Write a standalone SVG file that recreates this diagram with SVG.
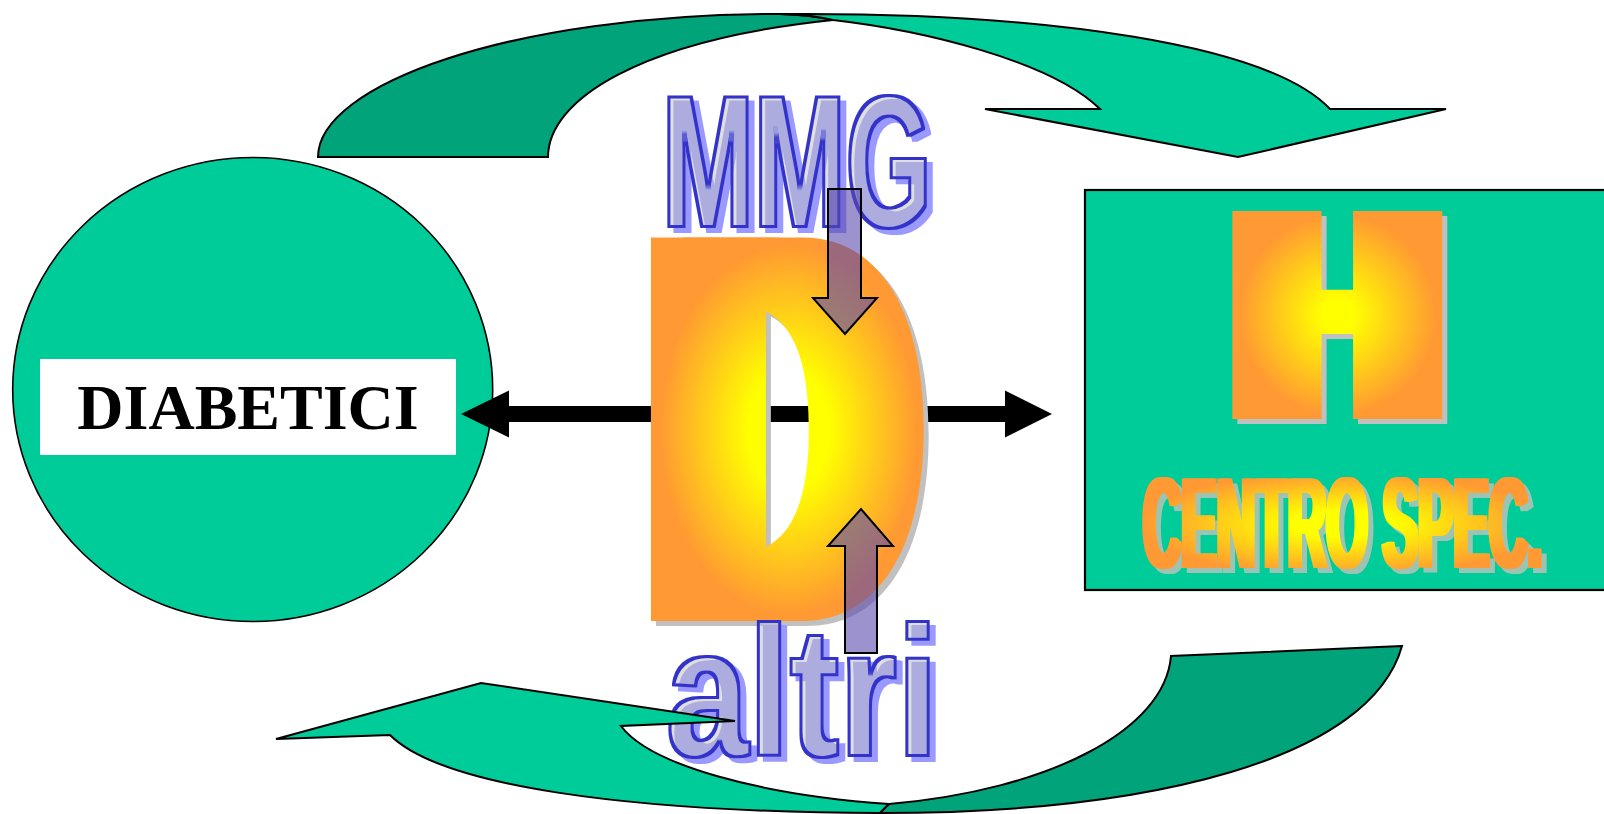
<svg xmlns="http://www.w3.org/2000/svg" width="1604" height="814" viewBox="0 0 1604 814">
  <style>
    .edge { stroke: #000; stroke-width: 2; stroke-linejoin: miter; }
    .front { fill: #00cc99; }
    .back { fill: #00a37a; }
    .pointer { fill: #5a4aae; fill-opacity: 0.6; stroke: #000; stroke-width: 2; }
    .heavy { font-family: "Liberation Sans", Arial, sans-serif; font-weight: bold; }
    .grot { font-family: Inter, "Liberation Sans", Arial, sans-serif; font-weight: 700; }
    .hollow { font-family: "Liberation Sans", Arial, sans-serif; font-weight: bold; fill: #000; }
    .label { font-family: "Liberation Serif", "Times New Roman", serif; font-weight: bold; font-size: 64px; fill: #000; }
  </style>
  <defs>
    <!-- warm yellow-to-orange glows, one per big lettering -->
    <radialGradient id="glowD" gradientUnits="userSpaceOnUse" cx="0" cy="0" r="1" gradientTransform="translate(789 430) scale(136 195)">
      <stop offset="0" stop-color="#ffff00"/>
      <stop offset="0.3" stop-color="#ffff00"/>
      <stop offset="0.95" stop-color="#ff9933"/>
    </radialGradient>
    <radialGradient id="glowH" gradientUnits="userSpaceOnUse" cx="0" cy="0" r="1" gradientTransform="translate(1338 315) scale(104 106)">
      <stop offset="0" stop-color="#ffff00"/>
      <stop offset="0.15" stop-color="#ffff00"/>
      <stop offset="0.95" stop-color="#ff9933"/>
    </radialGradient>
    <radialGradient id="glowC" gradientUnits="userSpaceOnUse" cx="0" cy="0" r="1" gradientTransform="translate(1342 524) scale(200 52)">
      <stop offset="0" stop-color="#ffff00"/>
      <stop offset="0.25" stop-color="#ffff00"/>
      <stop offset="1" stop-color="#ff9933"/>
    </radialGradient>
    <!-- same glow expressed in the condensed text's own coordinates -->
    <radialGradient id="glowCText" href="#glowC" gradientTransform="translate(486.1 -44) scale(488.3 52)"/>

    <!-- white, horizontally thickened silhouettes of the letters -->
    <filter id="widenD" x="-0.4" y="-0.1" width="1.8" height="1.2" color-interpolation-filters="sRGB">
      <feMorphology in="SourceAlpha" operator="dilate" radius="31.7 0.4" result="fat"/>
      <feFlood flood-color="#fff"/>
      <feComposite operator="in" in2="fat"/>
    </filter>
    <filter id="widenH" x="-0.4" y="-0.1" width="1.8" height="1.2" color-interpolation-filters="sRGB">
      <feMorphology in="SourceAlpha" operator="dilate" radius="25 5" result="fat"/>
      <feFlood flood-color="#fff"/>
      <feComposite operator="in" in2="fat"/>
    </filter>
    <filter id="widenC" x="-0.1" y="-0.1" width="1.2" height="1.2" color-interpolation-filters="sRGB">
      <feMorphology in="SourceAlpha" operator="dilate" radius="2.5 0.4" result="fat"/>
      <feFlood flood-color="#fff"/>
      <feComposite operator="in" in2="fat"/>
    </filter>
    <mask id="maskD" maskUnits="userSpaceOnUse" x="0" y="0" width="1604" height="814">
      <use href="#glyphD" filter="url(#widenD)"/>
    </mask>
    <mask id="maskH" maskUnits="userSpaceOnUse" x="0" y="0" width="1604" height="814">
      <use href="#glyphH" filter="url(#widenH)"/>
    </mask>
    <mask id="maskC" maskUnits="userSpaceOnUse" x="0" y="0" width="1604" height="814">
      <use href="#glyphC" filter="url(#widenC)"/>
    </mask>

    <!-- outlined word look: periwinkle shadow, translucent grey body, blue rim -->
    <filter id="hollowFx" x="-0.1" y="-0.1" width="1.3" height="1.3" color-interpolation-filters="sRGB">
      <feMorphology in="SourceAlpha" operator="dilate" radius="1 0.4" result="fat"/>
      <feMorphology in="fat" operator="dilate" radius="1" result="outer"/>
      <feMorphology in="fat" operator="erode" radius="2" result="inner"/>
      <feComposite in="outer" in2="inner" operator="out" result="ring"/>
      <feFlood flood-color="#9999ff"/>
      <feComposite operator="in" in2="outer"/>
      <feOffset dx="6" dy="5" result="shade"/>
      <feFlood flood-color="#c0c0c0" flood-opacity="0.5"/>
      <feComposite operator="in" in2="outer" result="body"/>
      <feFlood flood-color="#3333cc"/>
      <feComposite operator="in" in2="ring" result="rim"/>
      <feMerge>
        <feMergeNode in="shade"/>
        <feMergeNode in="body"/>
        <feMergeNode in="rim"/>
      </feMerge>
    </filter>
  </defs>

  <rect width="1604" height="814" fill="#fff"/>

  <!-- patients -->
  <g id="diabetici">
    <ellipse cx="252.7" cy="389.5" rx="240" ry="232" class="front" stroke="#000" stroke-width="1.6"/>
    <rect x="40" y="359" width="416" height="96" fill="#fff"/>
    <text class="label" x="248" y="429" text-anchor="middle">DIABETICI</text>
  </g>

  <!-- specialist centre -->
  <g id="centro-spec">
    <rect x="1085" y="190" width="540" height="400" class="front" stroke="#000" stroke-width="2.2"/>
    <rect x="1180" y="150" width="320" height="320" fill="#c0c0c0" mask="url(#maskH)" transform="translate(5 5)"/>
    <rect x="1180" y="150" width="320" height="320" fill="url(#glowH)" mask="url(#maskH)"/>
    <text id="glyphH" class="heavy" x="1239.2" y="414" font-size="287.8" textLength="196.4" lengthAdjust="spacingAndGlyphs"
          fill="url(#glowH)">H</text>
    <rect x="1120" y="450" width="450" height="140" fill="#9cc4b4" mask="url(#maskC)" transform="translate(5 5)"/>
    <rect x="1120" y="450" width="450" height="140" fill="url(#glowC)" mask="url(#maskC)"/>
    <text id="glyphC" class="heavy" x="0" y="0" font-size="130" transform="translate(1142.9 568) scale(0.4096 1)"
          fill="url(#glowCText)">CENTRO SPEC.</text>
  </g>

  <!-- link running behind the central letter -->
  <g id="links-back">
    <polygon fill="#000" points="461,414 509,390.5 509,406 1005,406 1005,390.5 1052,414 1005,437.5 1005,422 509,422 509,437.5"/>
  </g>

  <!-- central hub -->
  <g id="hub-d">
    <rect x="580" y="200" width="420" height="460" fill="#c0c0c0" mask="url(#maskD)" transform="translate(5 5)"/>
    <rect x="580" y="200" width="420" height="460" fill="url(#glowD)" mask="url(#maskD)"/>
    <text id="glyphD" class="grot" x="660.4" y="621" font-size="527" textLength="247" lengthAdjust="spacingAndGlyphs"
          fill="url(#glowD)">D</text>
  </g>

  <g id="mmg">
    <text class="hollow" x="661.9" y="227" font-size="190" textLength="269.6" lengthAdjust="spacingAndGlyphs" filter="url(#hollowFx)">MMG</text>
  </g>

  <g id="altri">
    <text class="hollow" x="666.1" y="755.7" font-size="186" textLength="272" lengthAdjust="spacingAndGlyphs" filter="url(#hollowFx)">altri</text>
  </g>

  <!-- cycle arrows and the two feeds into the hub -->
  <g id="links-front">
    <path class="back edge" d="M318,157 C318,85 510,14 780,14 Q812,15 833,20 C640,40 548,100 548,157 Z"/>
    <path class="front edge" d="M780,14 C1050,12 1270,45 1330,109 L1446,109 L1238,157 L985,109 L1100,109 C1050,60 920,30 833,20 Q812,15 780,14 Z"/>
    <path class="front edge" d="M276,739 L481,683 L735,721 L621,726 C650,765 760,795 889,804 L880,813 C620,812 440,785 390,735 Z"/>
    <path class="back edge" d="M1402,646 L1171,656 C1165,730 1050,790 889,804 L880,813 C1150,813 1370,760 1402,646 Z"/>
    <polygon class="pointer" points="828,189 861,189 861,298 877,298 845,334 813,298 828,298"/>
    <polygon class="pointer" points="845,653 877,653 877,546 893,546 861,509 828,546 845,546"/>
  </g>
</svg>
